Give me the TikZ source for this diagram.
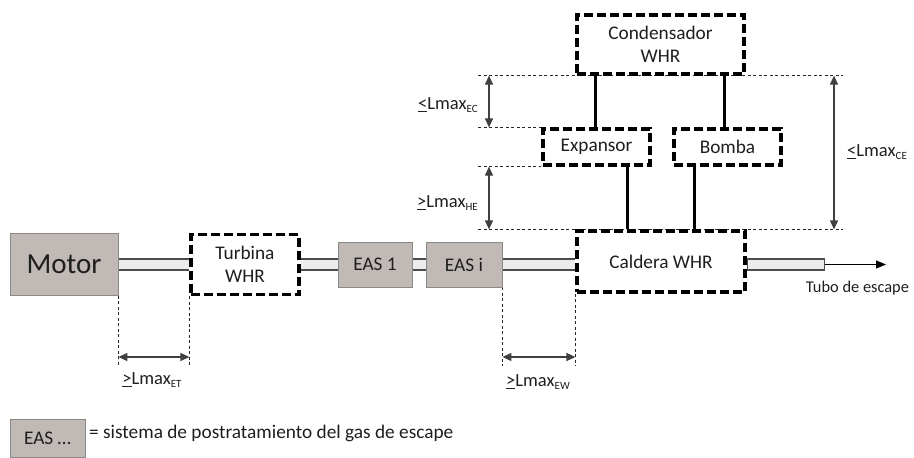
\documentclass[tikz,border=0pt]{standalone}
\usepackage{fontspec}
\setmainfont{Carlito}
\usetikzlibrary{arrows.meta,calc,backgrounds}

\definecolor{easfill}{RGB}{192,185,182}
\definecolor{easedge}{RGB}{140,136,134}
\definecolor{pipefill}{RGB}{236,236,236}
\definecolor{ink}{RGB}{30,30,30}

% dimension label: underlined relation sign, "Lmax" and a small lowered index
\newcommand{\lmaxlabel}[2]{\underline{#1}Lmax\raisebox{-0.35ex}{\fontsize{11}{11}\selectfont #2}}

\tikzset{
  base/.style={font=\fontsize{19.3}{23}\selectfont, text=ink, align=center, inner sep=0pt},
  easbox/.style={base, draw=easedge, fill=easfill, line width=0.8pt},
  whrbox/.style={base, draw=black, fill=white, line width=3.2pt, dash pattern=on 9pt off 4pt},
  pipe/.style={draw=black!70, line width=1.6pt, double=pipefill, double distance=9.6pt},
  pipebox/.style={draw=black!70, line width=1.6pt, fill=pipefill, inner sep=0pt, minimum height=11.2pt},
  link/.style={draw=black, line width=3pt},
  guide/.style={draw=black!85, line width=0.8pt, dash pattern=on 3pt off 2.5pt},
  dim/.style={draw=black!75, line width=1.2pt, {Triangle[length=9pt,width=8pt]}-{Triangle[length=9pt,width=8pt]}},
  dimlabel/.style={font=\fontsize{18.5}{20}\selectfont, text=ink, inner sep=0pt},
  flow/.style={draw=black, line width=1.1pt, -{Triangle[length=10pt,width=8pt]}},
}

\begin{document}
\begin{tikzpicture}[x=1pt, y=-1pt]
\useasboundingbox (0,0) rectangle (914,458);

% exhaust line components
\node[easbox, minimum width=108pt, minimum height=62pt, font=\fontsize{29}{33}\selectfont] (motor) at (64,264.5) {Motor};
\node[whrbox, minimum width=108pt, minimum height=60pt] (turb) at (245,264.5) {Turbina\\WHR};
\node[easbox, minimum width=74pt, minimum height=45pt] (eas1) at (375,264.5) {EAS 1};
\node[easbox, minimum width=76pt, minimum height=45pt] (easi) at (464,264.5) {EAS i};
\node[whrbox, minimum width=168pt, minimum height=61pt] (cald) at (661,261.5) {Caldera WHR};

% WHR cycle components
\node[whrbox, minimum width=167pt, minimum height=59pt] (cond) at (660.5,44.5) {Condensador\\WHR};
\node[whrbox, minimum width=107pt, minimum height=36pt] (exp) at (596.5,147) {Expansor};
\node[whrbox, minimum width=107pt, minimum height=36pt] (bomba) at (727.5,147) {Bomba};

% tail pipe and outlet
\node[pipebox, anchor=west, minimum width=77pt] (outlet) at (cald.east |- easi) {};
\coordinate (exit) at (886,264.5);
\draw[flow] (outlet.east) -- (exit);
\node[font=\fontsize{16.4}{18}\selectfont, text=ink, inner sep=0pt] (tubo) at (857.5,288) {Tubo de escape};

% cycle connections
\draw[link] (exp.north -| 595,0) -- (cond.south -| 595,0);
\draw[link] (bomba.north -| 724,0) -- (cond.south -| 724,0);
\draw[link] (exp.south -| 627,0) -- (cald.north -| 627,0);
\draw[link] (bomba.south -| 694,0) -- (cald.north -| 694,0);

% reference positions for the dimension lines
\coordinate (gl) at (478,0);
\coordinate (gr) at (843,0);
\coordinate (ax) at (489,0);
\coordinate (cx) at (834,0);
\coordinate (by) at (0,366);
\coordinate (ay) at (0,357);

\begin{scope}[on background layer]
  % gas pipes between the components
  \draw[pipe] (motor.east) -- (turb.west);
  \draw[pipe] (turb.east) -- (eas1.west);
  \draw[pipe] (eas1.east) -- (easi.west);
  \draw[pipe] (easi.east) -- (easi.east -| cald.west);
  % horizontal guides
  \draw[guide] (gl |- cond.south) -- (gr |- cond.south);
  \draw[guide] (gl |- exp.north) -- (exp.north west);
  \draw[guide] (gl |- exp.south) -- (exp.south west);
  \draw[guide] (gl |- cald.north) -- (gr |- cald.north);
  % vertical guides
  \draw[guide] (motor.south east) -- (motor.south east |- by);
  \draw[guide] (turb.south west) -- (turb.south west |- by);
  \draw[guide] (easi.south east) -- (easi.south east |- by);
  \draw[guide] (cald.south west) -- (cald.south west |- by);
\end{scope}

% distance arrows
\draw[dim] (ax |- cond.south) -- (ax |- exp.north);
\draw[dim] (ax |- exp.south) -- (ax |- cald.north);
\draw[dim] (cx |- cond.south) -- (cx |- cald.north);
\draw[dim] (motor.east |- ay) -- (turb.west |- ay);
\draw[dim] (easi.east |- ay) -- (cald.west |- ay);

\node[dimlabel, anchor=east] (lec) at (478,105) {\lmaxlabel{<}{EC}};
\node[dimlabel, anchor=east] (lhe) at (478,203) {\lmaxlabel{>}{HE}};
\node[dimlabel, anchor=west] (lce) at (847,152) {\lmaxlabel{<}{CE}};
\node[dimlabel] (let) at (152,380) {\lmaxlabel{>}{ET}};
\node[dimlabel] (lew) at (538,382) {\lmaxlabel{>}{EW}};

% legend
\node[easbox, minimum width=75pt, minimum height=38pt] (key) at (47.5,438) {EAS \ldots};
\node[base, anchor=west] (keytext) at (89,433) {= sistema de postratamiento del gas de escape};
\end{tikzpicture}
\end{document}
